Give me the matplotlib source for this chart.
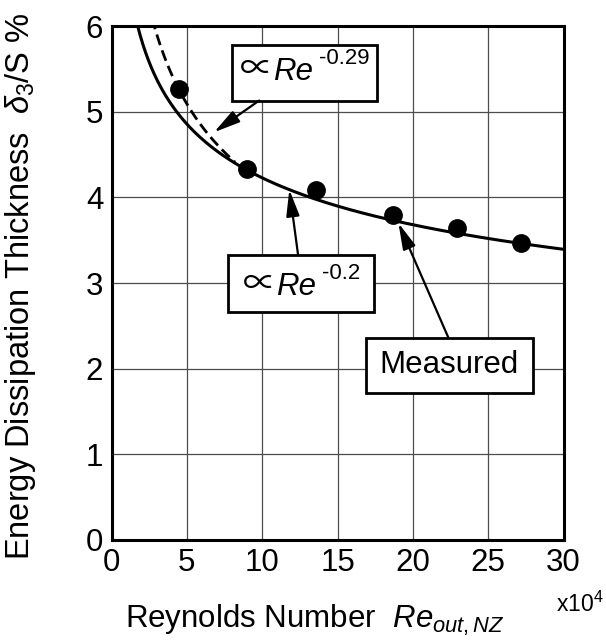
import numpy as np
import matplotlib.pyplot as plt
from matplotlib.patches import Rectangle

plt.rcParams['font.family'] = ['Liberation Sans', 'DejaVu Sans']
plt.rcParams['mathtext.fontset'] = 'custom'
plt.rcParams['mathtext.rm'] = 'Liberation Sans'
plt.rcParams['mathtext.it'] = 'Liberation Sans:italic'
plt.rcParams['mathtext.bf'] = 'Liberation Sans:bold'

# measured energy dissipation thickness (Re in units of 1e4)
re_meas = [4.5, 9.0, 13.6, 18.7, 22.9, 27.2]
d3_meas = [5.26, 4.33, 4.08, 3.79, 3.64, 3.47]

# power-law fits  d3/S = C * Re^n
n_fit1, c_fit1 = -0.2, 6.70
n_fit2, c_fit2 = -0.29, 8.12

fs = 22.5
W, H = 606, 641


def px(x, y):
    # pixel position (from top-left) -> figure fraction
    return x / W, 1 - y / H


fig = plt.figure(figsize=(W / 100, H / 100), dpi=100)
ax = fig.add_axes([0.184, 0.1576, 0.746, 0.8018])

re1 = np.linspace(1.5, 30, 300)
ax.plot(re1, c_fit1 * re1 ** n_fit1, color='k', lw=2.2, zorder=3)
re2 = np.linspace(2.7, 8.2, 100)
ax.plot(re2, c_fit2 * re2 ** n_fit2, color='k', lw=2.0, dashes=(4, 2), zorder=3)
ax.plot(re_meas, d3_meas, 'o', color='k', ms=12.5, zorder=4)

ax.set_xlim(0, 30)
ax.set_ylim(0, 6)
ax.set_xticks(np.arange(0, 31, 5))
ax.set_yticks(np.arange(0, 7, 1))
ax.tick_params(length=0, labelsize=fs, pad=6)
ax.grid(True, color='0.3', lw=0.9, zorder=1)
for s in ax.spines.values():
    s.set_linewidth(2.2)

# white label boxes (data coords)
for (x0, y0), w, h in [((7.97, 5.13), 9.63, 0.65),
                       ((7.75, 2.66), 9.67, 0.67),
                       ((16.89, 1.72), 11.09, 0.64)]:
    ax.add_patch(Rectangle((x0, y0), w, h, fc='white', ec='k', lw=2, zorder=5))

# "prop. to Re^n" labels built from pieces
for (x, y), sup in [((241.7, 69.0), '-0.29'), ((245.0, 284.0), '-0.2')]:
    fig.text(*px(x - 2, y), '\u221d', fontsize=24, family='Noto Sans CJK JP',
             ha='left', va='center', zorder=6)
    fig.text(*px(x + 31, y + 11), 'Re', fontsize=22.5, style='italic',
             ha='left', va='baseline', zorder=6)
    fig.text(*px(x + 77, y - 5), sup, fontsize=16, ha='left', va='baseline', zorder=6)

fig.text(*px(449, 373), 'Measured', fontsize=fs, ha='center', va='baseline', zorder=6)

arrow = dict(arrowstyle='-|>,head_length=0.8,head_width=0.2', color='k', lw=1.6,
             mutation_scale=20, shrinkA=0, shrinkB=0)
ax.annotate('', xy=(6.80, 4.76), xytext=(9.80, 5.13), arrowprops=arrow, zorder=6)
ax.annotate('', xy=(11.80, 4.09), xytext=(12.38, 3.33), arrowprops=arrow, zorder=6)
ax.annotate('', xy=(19.04, 3.70), xytext=(22.36, 2.36), arrowprops=arrow, zorder=6)

fig.text(*px(315, 628), r'Reynolds Number  $\mathit{Re}_{out,NZ}$',
         fontsize=fs, ha='center', va='baseline')
fig.text(*px(604, 612), r'x10$^4$', fontsize=16.5, ha='right', va='baseline')
fig.text(*px(21, 286), r'Energy Dissipation Thickness  $\delta_3$/S %',
         fontsize=23.5, rotation=90, ha='center', va='center')

fig.savefig('out.png', dpi=100)
